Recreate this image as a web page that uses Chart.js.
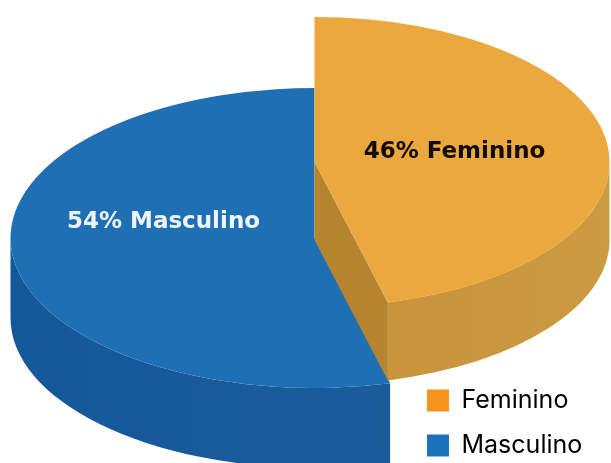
<!DOCTYPE html>
<html lang="pt">
<head>
    <meta charset="UTF-8">
    <title>Feminino / Masculino</title>
    <script src="https://cdn.jsdelivr.net/npm/chart.js"></script>
    <style>
        body { margin: 0; background: #fff; }
        canvas { display: block; }
    </style>
</head>
<body>
    <canvas id="pieChart" width="611" height="463"></canvas>

    <script>
        const categories = ['Feminino', 'Masculino'];
        const shares = [46, 54];

        // look of each slice, same order as categories
        const topColors = ['#eba83f', '#1f6fb5'];
        const legendColors = ['#f7941d', '#1d72bb'];
        const wallColors = [['#c08c34', '#cc9a40'], ['#15589a', '#1e5f9c']];
        const cutColor = '#b5842e';
        const labelColors = ['#120b02', '#eef4fa'];
        const labelShift = [[140, -10], [-151, -16]];
        const radiusX = [295, 304];
        const radiusY = [145, 150];
        const liftY = [-76, 0];
        const depth = [78, 80];

        function drawWall(ctx, arc, i) {
            const cx = arc.x;
            const cy = arc.y + liftY[i];
            const a0 = Math.max(arc.startAngle, 0);
            const a1 = Math.min(arc.endAngle, Math.PI);
            const grad = ctx.createLinearGradient(cx - radiusX[i], 0, cx + radiusX[i], 0);
            grad.addColorStop(0, wallColors[i][0]);
            grad.addColorStop(1, wallColors[i][1]);
            ctx.fillStyle = grad;
            ctx.beginPath();
            ctx.ellipse(cx, cy, radiusX[i], radiusY[i], 0, a0, a1);
            ctx.ellipse(cx, cy + depth[i], radiusX[i], radiusY[i], 0, a1, a0, true);
            ctx.closePath();
            ctx.fill();
        }

        // the straight face under the lifted slice, seen where it was cut
        function drawCut(ctx, arc, i) {
            const cx = arc.x;
            const cy = arc.y + liftY[i];
            const ex = cx + Math.cos(arc.endAngle) * radiusX[i];
            const ey = cy + Math.sin(arc.endAngle) * radiusY[i];
            ctx.fillStyle = cutColor;
            ctx.beginPath();
            ctx.moveTo(cx, cy);
            ctx.lineTo(ex, ey);
            ctx.lineTo(ex, ey + depth[i]);
            ctx.lineTo(cx, cy + depth[i]);
            ctx.closePath();
            ctx.fill();
        }

        function drawTop(ctx, arc, i) {
            ctx.save();
            ctx.translate(arc.x, arc.y + liftY[i]);
            ctx.scale(radiusX[i] / arc.outerRadius, radiusY[i] / arc.outerRadius);
            ctx.translate(-arc.x, -arc.y);
            arc.draw(ctx);
            ctx.restore();
        }

        const tiltedPie = {
            id: 'tiltedPie',
            afterLayout(chart) {
                // legend sits in the free corner under the lifted slice
                chart.legend.left = 407;
                chart.legend.bottom += 28;
            },
            beforeDatasetDraw(chart) {
                const ctx = chart.ctx;
                const arcs = chart.getDatasetMeta(0).data;
                // back slice first, the lifted one sits on top of it
                [1, 0].forEach(i => {
                    drawWall(ctx, arcs[i], i);
                    if (liftY[i] !== 0) drawCut(ctx, arcs[i], i);
                    drawTop(ctx, arcs[i], i);
                });
                ctx.save();
                ctx.font = 'bold 23px "DejaVu Sans", sans-serif';
                ctx.textAlign = 'center';
                ctx.textBaseline = 'middle';
                arcs.forEach((arc, i) => {
                    ctx.fillStyle = labelColors[i];
                    ctx.fillText(shares[i] + '% ' + categories[i],
                        arc.x + labelShift[i][0],
                        arc.y + liftY[i] + labelShift[i][1]);
                });
                ctx.restore();
                return false;
            }
        };

        new Chart(document.getElementById('pieChart').getContext('2d'), {
            type: 'pie',
            data: {
                labels: categories,
                datasets: [{
                    data: shares,
                    backgroundColor: topColors,
                    borderWidth: 0
                }]
            },
            options: {
                responsive: false,
                animation: false,
                layout: { padding: { left: 18, top: 13 } },
                events: [],
                plugins: {
                    tooltip: { enabled: false },
                    legend: {
                        position: 'chartArea',
                        align: 'end',
                        labels: {
                            boxWidth: 22,
                            boxHeight: 22,
                            padding: 20,
                            color: '#3b4554',
                            font: { family: 'Inter, sans-serif', size: 25 },
                            generateLabels: () => categories.map((c, i) => ({
                                text: c,
                                fillStyle: legendColors[i],
                                strokeStyle: legendColors[i],
                                lineWidth: 0,
                                index: i
                            }))
                        }
                    }
                }
            },
            plugins: [tiltedPie]
        });
    </script>
</body>
</html>
